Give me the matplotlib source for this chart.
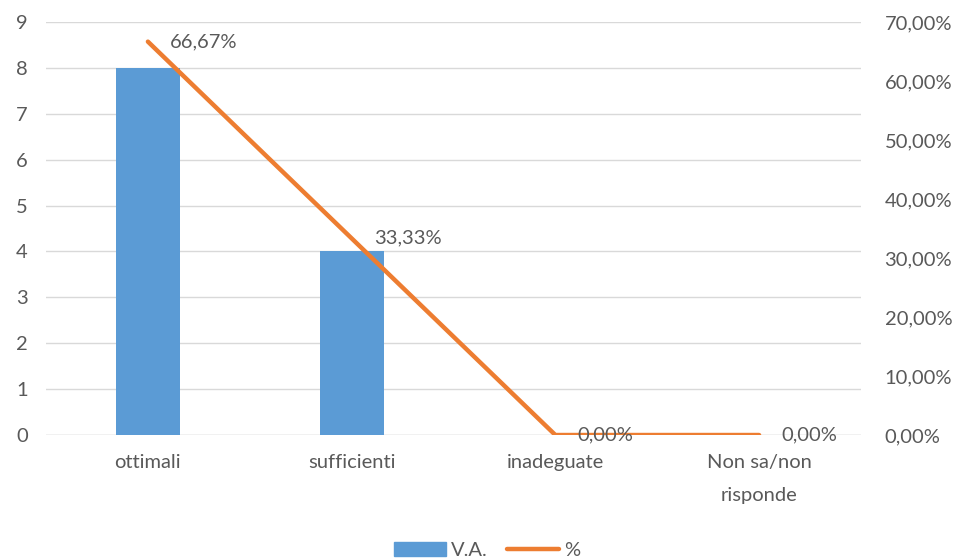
import numpy as np
import matplotlib.pyplot as plt
from matplotlib.lines import Line2D
from matplotlib.patches import Patch

plt.rcParams['font.family'] = ['Lato', 'DejaVu Sans']

# Data
categories = ['ottimali', 'sufficienti', 'inadeguate', 'Non sa/non\nrisponde']
va = [8, 4, 0, 0]
pct = [66.67, 33.33, 0.0, 0.0]

text_col = '#595959'
bar_col = '#5B9BD5'
line_col = '#ED7D31'
grid_col = '#D9D9D9'
fs = 14.5

fig = plt.figure(figsize=(9.61, 5.58), dpi=100)
ax = fig.add_axes([0.0479, 0.2204, 0.848, 0.7402])
ax2 = ax.twinx()

x = np.arange(len(categories))
ax.bar(x, va, width=0.315, color=bar_col, zorder=2)
ax.set_ylim(0, 9)
ax.set_xlim(-0.5, len(categories) - 0.5)
ax.set_yticks(range(0, 10))
ax.yaxis.grid(True, color=grid_col, linewidth=1)
ax.set_axisbelow(True)

ax2.plot(x, pct, color=line_col, linewidth=3.2, solid_capstyle='round', zorder=3)
ax2.set_ylim(0, 70)
ax2.set_yticks(range(0, 71, 10))
ax2.set_yticklabels([f'{v},00%' for v in range(0, 71, 10)])

for xi, p in zip(x, pct):
    ax2.annotate(f'{p:.2f}%'.replace('.', ','), (xi, p), xytext=(16, 0),
                 textcoords='offset points', va='center', ha='left',
                 fontsize=fs, color=text_col)

ax.set_xticks(x)
ax.set_xticklabels(categories, fontsize=fs, color=text_col, linespacing=2.1)
for a in (ax, ax2):
    for s in a.spines.values():
        s.set_visible(False)
    a.tick_params(length=0, labelsize=fs, labelcolor=text_col)
ax.tick_params(axis='y', pad=13)
ax.tick_params(axis='x', pad=14)
ax2.tick_params(axis='y', pad=17)
ax.axhline(0, color=grid_col, linewidth=1, zorder=1)

handles = [Patch(color=bar_col), Line2D([0], [0], color=line_col, linewidth=3.2, solid_capstyle='round')]
fig.legend(handles, ['V.A.', '%'], loc='center', bbox_to_anchor=(0.507, 0.014), ncol=2,
           frameon=False, fontsize=fs, labelcolor=text_col, handlelength=2.6,
           handletextpad=0.25, columnspacing=0.95, borderpad=0.2)

fig.savefig('out.png', dpi=100)
